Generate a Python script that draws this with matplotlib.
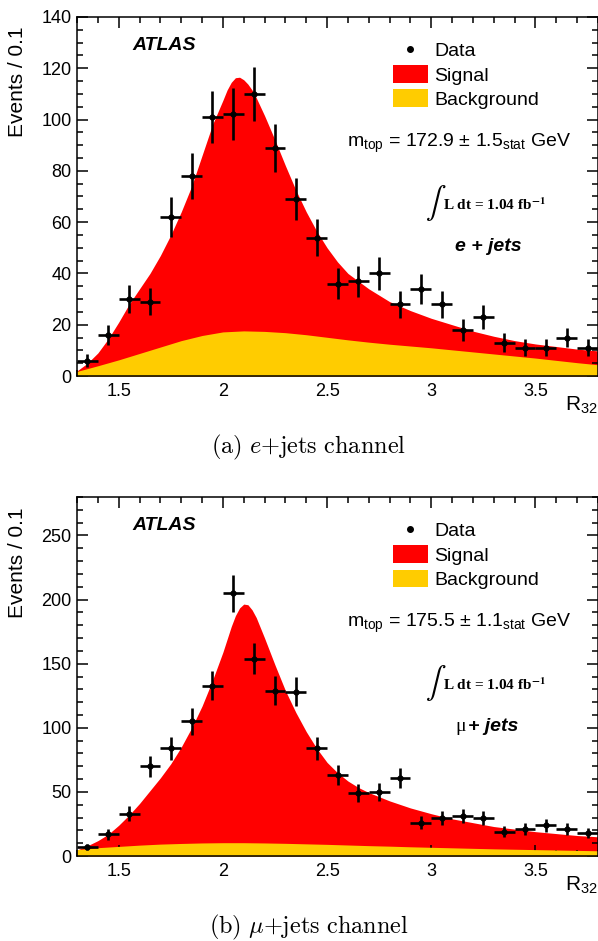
import numpy as np
import matplotlib
matplotlib.use("Agg")
import matplotlib.pyplot as plt
from matplotlib.lines import Line2D
from matplotlib.patches import Patch
from matplotlib.ticker import MultipleLocator, FormatStrFormatter

plt.rcParams['font.family'] = ['Liberation Sans', 'DejaVu Sans']

# bin centres of R32 (bin width 0.1)
r32_bins = [1.35, 1.45, 1.55, 1.65, 1.75, 1.85, 1.95, 2.05, 2.15, 2.25, 2.35, 2.45, 2.55,
            2.65, 2.75, 2.85, 2.95, 3.05, 3.15, 3.25, 3.35, 3.45, 3.55, 3.65, 3.75]

# data (e+jets / mu+jets)
data_e = [6, 16, 30, 29, 62, 78, 101, 102, 110, 89, 69, 54, 36,
          37, 40, 28, 34, 28, 18, 23, 13, 11, 11, 15, 11]
data_mu = [7, 17, 33, 70, 84, 105, 133, 205, 154, 129, 128, 84, 63,
           49, 50, 61, 26, 30, 31, 30, 19, 21, 24, 21, 18]

# fit: signal+background (upper edge of red)
fit_x = [1.30, 1.35, 1.40, 1.45, 1.50, 1.55, 1.60, 1.65, 1.70, 1.75, 1.80, 1.85, 1.90, 1.95,
         2.00, 2.02, 2.04, 2.06, 2.08, 2.10, 2.12, 2.14, 2.16, 2.18, 2.20,
         2.25, 2.30, 2.35, 2.40, 2.45, 2.50, 2.55, 2.60, 2.65, 2.70,
         2.80, 2.90, 3.00, 3.10, 3.20, 3.30, 3.40, 3.50, 3.60, 3.70, 3.80]
total_e = [2, 5, 9, 14.5, 21, 28, 34, 40, 47, 55, 64, 74, 86, 98,
           107.5, 111.5, 114.5, 116.3, 116.5, 115.5, 113.8, 111.5, 108.5, 105, 101.5,
           92, 82, 72.5, 64, 56.5, 50, 44.5, 40, 37, 34,
           29, 25.5, 22.5, 20, 17.5, 15.5, 13.8, 12.5, 11.5, 10.5, 9.8]
total_mu = [4.7, 8, 12, 17, 24, 32, 41, 51, 61, 72, 85, 100, 117, 137,
            159, 169, 179, 187.5, 193.5, 196.5, 196, 192, 186, 178, 170,
            149, 129, 112, 97, 84, 73, 65, 58.5, 53.5, 49.5,
            43, 37.5, 33, 29, 26, 23, 21, 19, 17.5, 16, 15]

# background only
bkg_x = [1.3, 1.4, 1.5, 1.6, 1.7, 1.8, 1.9, 2.0, 2.1, 2.2, 2.3, 2.4, 2.5,
         2.6, 2.7, 2.8, 2.9, 3.0, 3.1, 3.2, 3.3, 3.4, 3.5, 3.6, 3.7, 3.8]
bkg_e = [1.8, 4, 6.3, 8.8, 11.3, 13.8, 15.8, 17.2, 17.6, 17.4, 16.9, 16.1, 15.1,
         14.1, 13.2, 12.4, 11.7, 11.0, 10.2, 9.4, 8.6, 7.8, 7.0, 6.1, 5.2, 4.4]
bkg_mu = [5, 6.5, 7.5, 8.5, 9.3, 9.8, 10.2, 10.4, 10.4, 10.2, 9.9, 9.5, 9.1,
          8.6, 8.1, 7.7, 7.2, 6.8, 6.4, 6.0, 5.6, 5.3, 5.0, 4.7, 4.4, 4.1]

RED = '#ff0000'
YELLOW = '#ffcc00'

fig = plt.figure(figsize=(5.98, 9.41), dpi=100)


def panel(ax, data, total, bkg, ymax, ymajor, yminor, mtop, channel, caption):
    ax.fill_between(fit_x, 0, total, color=RED, lw=0, zorder=1)
    ax.fill_between(bkg_x, 0, bkg, color=YELLOW, lw=0, zorder=2)
    ax.errorbar(r32_bins, data, xerr=0.05, yerr=np.sqrt(data), fmt='o', color='black',
                ms=3.5, elinewidth=1.9, capsize=0, zorder=5)
    ax.set_xlim(1.3, 3.8)
    ax.set_ylim(0, ymax)
    ax.xaxis.set_major_locator(MultipleLocator(0.5))
    ax.xaxis.set_minor_locator(MultipleLocator(0.1))
    ax.xaxis.set_major_formatter(FormatStrFormatter('%g'))
    ax.yaxis.set_major_locator(MultipleLocator(ymajor))
    ax.yaxis.set_minor_locator(MultipleLocator(yminor))
    ax.tick_params(which='both', direction='in', top=True, right=True, width=1.1,
                   labelsize=13, pad=4)
    ax.tick_params(which='major', length=8)
    ax.tick_params(which='minor', length=4.3)
    ax.tick_params(axis='x', pad=5)
    for s in ax.spines.values():
        s.set_linewidth(1.1)

    ax.text(-0.115, 0.972, 'Events / 0.1', rotation=90, ha='center', va='top',
            fontsize=15, transform=ax.transAxes)
    ax.text(1.0, -0.053, r'$\mathregular{R_{32}}$', ha='right', va='top',
            fontsize=15, transform=ax.transAxes)

    ax.text(0.106, 0.92, 'ATLAS', fontsize=14, fontweight='bold', style='italic',
            va='center', transform=ax.transAxes)

    handles = [Line2D([], [], marker='o', color='black', ls='none', ms=4),
               Patch(facecolor=RED, edgecolor='none'),
               Patch(facecolor=YELLOW, edgecolor='none')]
    ax.legend(handles, ['Data', 'Signal', 'Background'], loc='upper left',
              bbox_to_anchor=(0.606, 0.933), frameon=False, fontsize=14,
              handlelength=1.8, handleheight=1.0, handletextpad=0.35,
              labelspacing=0.25, borderpad=0, borderaxespad=0)

    ax.text(0.518, 0.649, mtop, fontsize=14, va='center', transform=ax.transAxes)

    ax.text(0.668, 0.482, r'$\int$', fontsize=22, va='center', math_fontfamily='stix',
            transform=ax.transAxes)
    ax.text(0.703, 0.478, r'L dt = 1.04 fb$^{\mathbf{-1}}$', fontsize=11,
            fontweight='bold', family='Liberation Serif', va='center',
            math_fontfamily='stix', transform=ax.transAxes)

    if channel == 'e':
        ax.text(0.7255, 0.36, 'e + jets', fontsize=14, fontweight='bold', style='italic',
                va='center', transform=ax.transAxes)
    else:
        ax.text(0.7255, 0.36, 'μ', fontsize=14, family='Liberation Serif',
                va='center', transform=ax.transAxes)
        ax.text(0.7505, 0.36, '+ jets', fontsize=14, fontweight='bold', style='italic',
                va='center', transform=ax.transAxes)

    ax.text(0.445, -0.2, caption, fontsize=17.5, ha='center', va='center',
            math_fontfamily='cm', transform=ax.transAxes)


ax1 = fig.add_axes([0.1288, 0.6004, 0.8712, 0.3816])
panel(ax1, data_e, total_e, bkg_e, 140, 20, 5,
      r'$\mathregular{m_{top}}$ = 172.9 $\mathregular{\pm}$ 1.5$\mathregular{_{stat}}$ GeV',
      'e', r'$\mathrm{(a)\ }e\mathrm{+jets\ channel}$')

ax2 = fig.add_axes([0.1288, 0.0903, 0.8712, 0.3815])
panel(ax2, data_mu, total_mu, bkg_mu, 280, 50, 10,
      r'$\mathregular{m_{top}}$ = 175.5 $\mathregular{\pm}$ 1.1$\mathregular{_{stat}}$ GeV',
      'mu', r'$\mathrm{(b)\ }\mu\mathrm{+jets\ channel}$')

fig.savefig('out.png', dpi=100)
